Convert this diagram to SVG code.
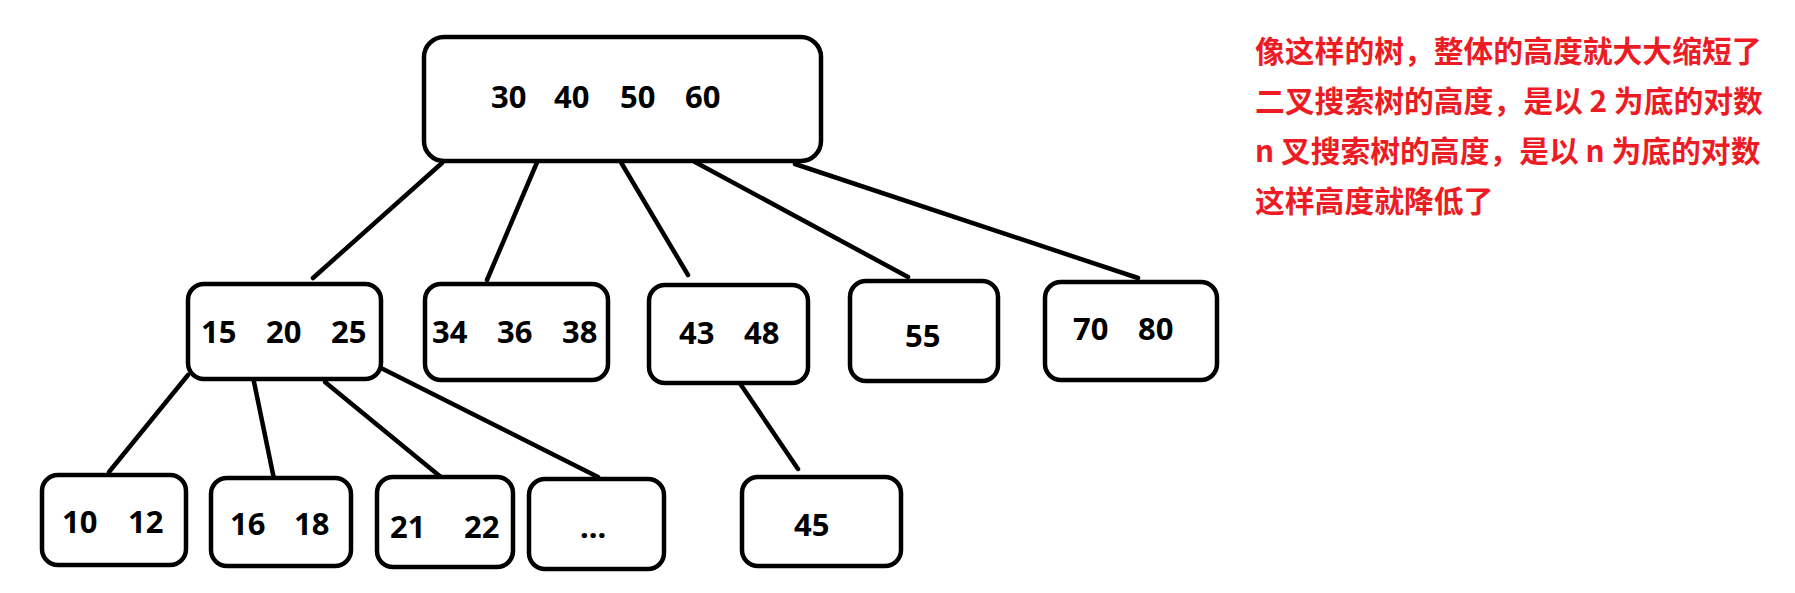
<svg xmlns="http://www.w3.org/2000/svg" width="1795" height="593" viewBox="0 0 1795 593">
<style>
.box{fill:#fff;stroke:#000;stroke-width:4.5}
.num{font-family:"Noto Sans","Liberation Sans",sans-serif;font-weight:bold;font-size:31px;fill:#000}
.edge{stroke:#000;stroke-width:4.5;stroke-linecap:round;fill:none}
.note{font-family:"Noto Sans CJK SC","Noto Sans",sans-serif;font-weight:bold;font-size:29.8px;fill:#ed1c24}
</style>
<rect width="1795" height="593" fill="#fff"/>
<g id="connectors">
<line class="edge" x1="442" y1="163" x2="313" y2="278"/>
<line class="edge" x1="538" y1="160" x2="487" y2="280"/>
<line class="edge" x1="619" y1="159" x2="688" y2="275"/>
<line class="edge" x1="695" y1="162" x2="908" y2="277"/>
<line class="edge" x1="795" y1="164" x2="1138" y2="278"/>
<line class="edge" x1="188" y1="375" x2="109" y2="472"/>
<line class="edge" x1="253" y1="377" x2="274" y2="479"/>
<line class="edge" x1="325" y1="382" x2="442" y2="478"/>
<line class="edge" x1="383" y1="369" x2="598" y2="477"/>
<line class="edge" x1="739" y1="382" x2="798" y2="469"/>
</g>
<g id="root">
<rect class="box" x="424" y="37" width="397" height="124" rx="20"/>
<text class="num" y="108"><tspan x="491">30</tspan><tspan x="554">40</tspan><tspan x="620">50</tspan><tspan x="685">60</tspan></text>
</g>
<g id="n15">
<rect class="box" x="188" y="284" width="193" height="95" rx="16"/>
<text class="num" y="343"><tspan x="201">15</tspan><tspan x="266">20</tspan><tspan x="331">25</tspan></text>
</g>
<g id="n34">
<rect class="box" x="425" y="284" width="183" height="96" rx="16"/>
<text class="num" y="343"><tspan x="432">34</tspan><tspan x="497">36</tspan><tspan x="562">38</tspan></text>
</g>
<g id="n43">
<rect class="box" x="649" y="285" width="159" height="98" rx="16"/>
<text class="num" y="344"><tspan x="679">43</tspan><tspan x="744">48</tspan></text>
</g>
<g id="n55">
<rect class="box" x="850" y="281" width="148" height="100" rx="16"/>
<text class="num" x="905" y="347">55</text>
</g>
<g id="n70">
<rect class="box" x="1045" y="282" width="172" height="98" rx="16"/>
<text class="num" y="340"><tspan x="1073">70</tspan><tspan x="1138">80</tspan></text>
</g>
<g id="n10">
<rect class="box" x="42" y="475" width="144" height="90" rx="16"/>
<text class="num" y="533"><tspan x="62">10</tspan><tspan x="128">12</tspan></text>
</g>
<g id="n16">
<rect class="box" x="211" y="478" width="140" height="88" rx="16"/>
<text class="num" y="535"><tspan x="230">16</tspan><tspan x="294">18</tspan></text>
</g>
<g id="n21">
<rect class="box" x="377" y="477" width="136" height="90" rx="16"/>
<text class="num" y="538"><tspan x="390">21</tspan><tspan x="464">22</tspan></text>
</g>
<g id="nmore">
<rect class="box" x="529" y="479" width="135" height="90" rx="16"/>
<text class="num" x="580" y="538">...</text>
</g>
<g id="n45">
<rect class="box" x="742" y="477" width="159" height="89" rx="16"/>
<text class="num" x="794" y="536">45</text>
</g>
<g id="note">
<text class="note" x="1255" y="62">像这样的树，整体的高度就大大缩短了</text>
<text class="note" x="1255" y="112">二叉搜索树的高度，是以 2 为底的对数</text>
<text class="note" x="1255" y="162">n 叉搜索树的高度，是以 n 为底的对数</text>
<text class="note" x="1255" y="212">这样高度就降低了</text>
</g>
</svg>
